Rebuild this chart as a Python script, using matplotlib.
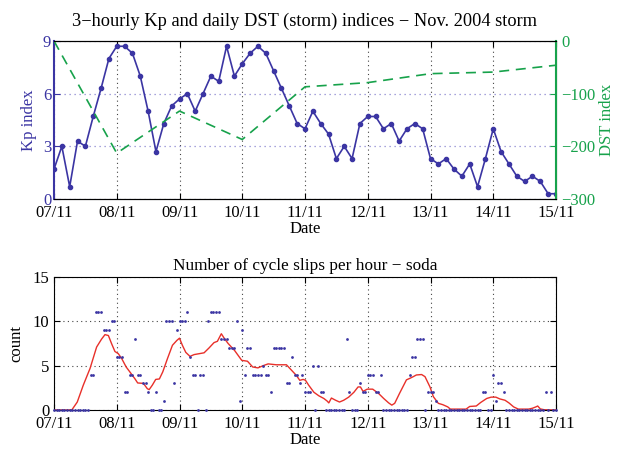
import numpy as np
import pandas as pd
import matplotlib
matplotlib.use("Agg")
import matplotlib.pyplot as plt
import matplotlib.dates as mdates

plt.rcParams['font.family'] = ['Liberation Serif', 'DejaVu Serif']
plt.rcParams['font.size'] = 12

# 3-hourly Kp index, 07/11 00h .. 15/11 00h
kp = [1.7, 3.0, 0.7, 3.3, 3.0, 4.7, 6.3, 8.0, 8.7, 8.7, 8.3, 7.0, 5.0, 2.7, 4.3, 5.3,
      5.7, 6.0, 5.0, 6.0, 7.0, 6.7, 8.7, 7.0, 7.7, 8.3, 8.7, 8.3, 7.3, 6.3, 5.3, 4.3,
      4.0, 5.0, 4.3, 3.7, 2.3, 3.0, 2.3, 4.3, 4.7, 4.7, 4.0, 4.3, 3.3, 4.0, 4.3, 4.0,
      2.3, 2.0, 2.3, 1.7, 1.3, 2.0, 0.7, 2.3, 4.0, 2.7, 2.0, 1.3, 1.0, 1.3, 1.0, 0.3,
      0.3]
# daily DST
dst = [0, -213, -133, -187, -87, -79, -62, -59, -46]

# hourly cycle slips (soda)
slips = [0, 0, 0, 0, 0, 0, 0, 0, 0, 0, 0, 0, 0, 0, 4, 4, 11, 11, 11, 9, 9, 9, 10, 10,
         6, 6, 6, 2, 2, 4, 4, 8, 4, 4, 3, 3, 2, 0, 0, 2, 0, 0, 1, 10, 10, 10, 3, 9,
         10, 10, 10, 11, 6, 4, 4, 0, 4, 4, 0, 10, 11, 11, 11, 11, 8, 8, 8, 7, 7, 7, 10, 1,
         9, 4, 7, 7, 4, 4, 4, 4, 5, 4, 4, 2, 7, 7, 7, 7, 7, 3, 3, 6, 4, 4, 3, 4,
         2, 2, 2, 5, 0, 5, 2, 2, 0, 0, 0, 0, 0, 0, 0, 0, 8, 2, 0, 0, 0, 3, 2, 2,
         4, 4, 4, 2, 2, 4, 0, 0, 0, 0, 0, 0, 0, 0, 0, 0, 4, 6, 6, 8, 8, 8, 0, 2,
         2, 2, 1, 0, 0, 0, 0, 0, 0, 0, 0, 0, 0, 0, 0, 0, 0, 0, 0, 0, 2, 2, 0, 0,
         4, 1, 3, 3, 2, 0, 0, 0, 0, 0, 0, 0, 0, 0, 0, 0, 0, 0, 0, 0, 2, 0, 2, 0,
         0]

# smoothed slips (red line), hours since 07/11 00h
smooth_h = [0, 6.8, 8.9, 11.2, 13.8, 16.3, 18.2, 19.5, 20.8, 22, 23.3, 24.6, 25.9, 27.6,
            29, 31, 32, 34.2, 35.7, 36.4, 37.6, 38.9, 40.3, 41.6, 43.4, 45.3, 47, 48,
            49.1, 50.4, 52, 53.6, 55.5, 57.4, 59.3, 61.2, 62.5, 64, 65.2, 66.6, 69.1,
            71.8, 74, 76, 78, 80, 81.9, 85, 88.9, 90.8, 92.7, 94, 95.3, 96.2, 97.4,
            99.4, 101.3, 103.2, 104.5, 105.1, 106.1, 107.7, 109.2, 110.8, 112.7, 114.7,
            116.3, 117.2, 118.2, 119.8, 121.9, 124.2, 126.1, 128, 129.2, 130.3, 132.2,
            134.8, 136.1, 137.4, 138.6, 140.6, 141.9, 143.8, 145.1, 147, 148.7, 150.6,
            151.6, 157.6, 159, 161.5, 163.2, 165.5, 167.2, 169, 170.5, 172.5, 174,
            175.8, 177.6, 181.5, 183, 184.3, 185, 186, 187.5, 192]
smooth_v = [0, 0, 0.9, 2.8, 4.7, 7.1, 8.0, 8.5, 8.4, 7.5, 6.6, 6.35, 5.8, 4.85,
            4.3, 3.5, 3.05, 3.0, 2.4, 2.3, 2.8, 3.45, 3.5, 4.3, 5.8, 7.3, 7.85, 8.1,
            7.3, 6.5, 6.05, 6.25, 6.35, 6.45, 7.0, 7.6, 7.75, 8.6, 8.05, 7.5, 6.7,
            5.6, 5.5, 4.85, 4.75, 5.0, 5.2, 5.1, 5.1, 4.5, 3.9, 3.35, 3.45, 3.35, 2.8,
            2.0, 1.6, 1.3, 1.0, 0.8, 1.35, 1.1, 0.9, 1.1, 1.45, 2.0,
            2.6, 2.6, 2.1, 2.35, 2.35, 1.85, 1.3, 0.8, 0.55, 0.75, 1.9,
            3.4, 3.57, 3.76, 3.95, 4.0, 3.76, 2.6, 1.5, 0.75, 0.6, 0.35,
            0.1, 0.1, 0.4, 0.45, 0.85, 1.3, 1.45, 1.45, 1.25, 1.1, 0.8,
            0.35, 0.1, 0.1, 0.2, 0.35, 0.45, 0.12, 0.03, 0]

start = pd.Timestamp('2004-11-07')
end = pd.Timestamp('2004-11-15')
kp_t = pd.date_range(start, periods=len(kp), freq='3h')
dst_t = pd.date_range(start, periods=len(dst), freq='D')
slip_t = pd.date_range(start, periods=len(slips), freq='h')
smooth_t = start + pd.to_timedelta(smooth_h, unit='h')

kp_col = '#3b35a3'
dst_col = '#17a24b'
red = '#e8302a'
dotted = (0, (1, 3))

fig = plt.figure(figsize=(6.27, 4.49), dpi=100)

# ---- top: Kp and DST
ax1 = fig.add_axes([54 / 627, 1 - 199 / 449, 502 / 627, 158 / 449])
ax1.plot(kp_t, kp, '-o', color=kp_col, lw=1.2, ms=3.0, zorder=3)
ax1.set_ylim(0, 9)
ax1.set_yticks([0, 3, 6, 9])
ax1.set_xlim(start, end)
ax1.xaxis.set_major_locator(mdates.DayLocator())
ax1.xaxis.set_major_formatter(mdates.DateFormatter('%d/%m'))
ax1.xaxis.grid(True, linestyle=dotted, color='#444444', lw=0.8)
ax1.yaxis.grid(True, linestyle=dotted, color='#8a86d0', lw=0.9)
ax1.tick_params(axis='x', direction='in', top=True, length=4, pad=4)
ax1.tick_params(axis='y', direction='in', colors=kp_col, length=4, pad=2)
ax1.set_ylabel('Kp index', color=kp_col, labelpad=4)
ax1.set_xlabel('Date', labelpad=0)
ax1.set_title('3\u2212hourly Kp and daily DST (storm) indices \u2212 Nov. 2004 storm',
              fontsize=13.2, pad=11)
ax1.spines['left'].set_color(kp_col)
ax1.spines['left'].set_linewidth(1.5)

ax2 = ax1.twinx()
ax2.plot(dst_t, dst, '--', color=dst_col, lw=1.2, dashes=(6, 4))
ax2.set_ylim(-300, 0)
ax2.set_yticks([-300, -200, -100, 0])
ax2.tick_params(axis='y', direction='in', colors=dst_col, length=4, pad=4)
ax2.set_ylabel('DST index', color=dst_col, labelpad=2)
ax2.spines['right'].set_color(dst_col)
ax2.spines['right'].set_linewidth(1.5)
ax2.spines['left'].set_visible(False)

# ---- bottom: cycle slips
ax3 = fig.add_axes([54 / 627, 1 - 410 / 449, 502 / 627, 133 / 449])
ax3.plot(smooth_t, smooth_v, '-', color=red, lw=1.0, zorder=2)
ax3.plot(slip_t, slips, 'o', color=kp_col, ms=2.0, mew=0, clip_on=False, zorder=3)
ax3.set_ylim(0, 15)
ax3.set_yticks([0, 5, 10, 15])
ax3.set_xlim(start, end)
ax3.xaxis.set_major_locator(mdates.DayLocator())
ax3.xaxis.set_major_formatter(mdates.DateFormatter('%d/%m'))
ax3.grid(True, linestyle=dotted, color='#444444', lw=0.8)
ax3.tick_params(direction='in', top=True, right=True, length=4)
ax3.tick_params(axis='x', pad=4)
ax3.set_ylabel('count', labelpad=6)
ax3.set_xlabel('Date', labelpad=0)
ax3.set_title('Number of cycle slips per hour \u2212 soda', fontsize=12.4, pad=5)

fig.savefig('out.png', dpi=100)
